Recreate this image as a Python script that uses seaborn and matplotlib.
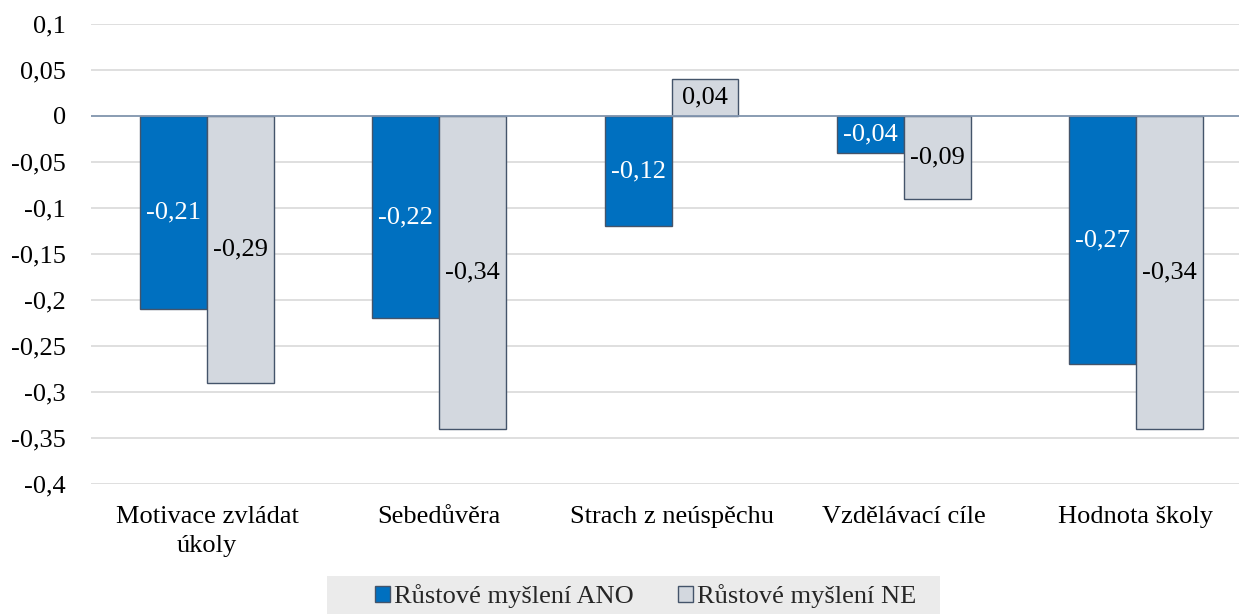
import matplotlib
matplotlib.use("Agg")
import matplotlib.pyplot as plt
import seaborn as sns
import pandas as pd
import numpy as np
from matplotlib.ticker import FixedLocator, FuncFormatter
from matplotlib.patches import Patch, Rectangle

categories = ["Motivace zvládat\núkoly", "Sebedůvěra", "Strach z neúspěchu",
              "Vzdělávací cíle", "Hodnota školy"]
series_names = ["Růstové myšlení ANO", "Růstové myšlení NE"]
values_ano = [-0.21, -0.22, -0.12, -0.04, -0.27]
values_ne = [-0.29, -0.34, 0.04, -0.09, -0.34]
y_ticks = [0.1, 0.05, 0, -0.05, -0.1, -0.15, -0.2, -0.25, -0.3, -0.35, -0.4]

colors = ["#0070C0", "#D3D8DF"]
edge = "#44546A"
fs = 19

sns.set_theme(style="white")
plt.rcParams["font.family"] = ["Liberation Serif", "DejaVu Serif"]

df = pd.DataFrame({
    "kategorie": categories * 2,
    "skupina": [series_names[0]] * 5 + [series_names[1]] * 5,
    "hodnota": values_ano + values_ne,
})

fig = plt.figure(figsize=(12.39, 6.14), dpi=100)
# the plot area runs slightly past the right edge of the canvas
ax = fig.add_axes([91 / 1239, 0.2117, (1252 - 91) / 1239, 0.7493])

sns.barplot(data=df, x="kategorie", y="hodnota", hue="skupina",
            palette=colors, saturation=1, width=0.577, gap=0,
            edgecolor=edge, linewidth=1.0, ax=ax, legend=False, zorder=3)

ax.set_ylim(-0.4, 0.1)
ax.set_xlim(-0.5, 4.5)
ax.yaxis.set_major_locator(FixedLocator(y_ticks))
ax.yaxis.set_major_formatter(FuncFormatter(
    lambda v, p: f"{v:g}".replace(".", ",") if abs(v) > 1e-9 else "0"))
ax.grid(axis="y", color="#D9D9D9", linewidth=1.2, zorder=0)
ax.axhline(0, color="#8497B0", linewidth=1.3, zorder=4)
for s in ax.spines.values():
    s.set_visible(False)
ax.set_xlabel("")
ax.set_ylabel("")
ax.tick_params(axis="both", length=0, labelsize=fs, colors="#000000")
ax.tick_params(axis="x", pad=16)
ax.tick_params(axis="y", pad=18)
for t in ax.get_xticklabels():
    t.set_linespacing(1.4)

label_colors = ["white", "black"]
for cont, vals, lc in zip(ax.containers, [values_ano, values_ne], label_colors):
    ax.bar_label(cont, labels=[f"{v:g}".replace(".", ",") for v in vals],
                 label_type="center", color=lc, fontsize=fs, zorder=5)

# legend band at the bottom
fig.patches.append(Rectangle((327 / 1239, 0), (940 - 327) / 1239, 38 / 614,
                             transform=fig.transFigure, facecolor="#EBEBEB",
                             edgecolor="none", zorder=0))
handles = [Patch(facecolor=c, edgecolor=edge, linewidth=1.0) for c in colors]
leg = fig.legend(handles, series_names, loc="center", bbox_to_anchor=(0.521, 0.029),
                 ncol=2, fontsize=fs, frameon=False,
                 handlelength=0.55, handleheight=0.55, handletextpad=0.15,
                 columnspacing=1.7, borderpad=0.2)

fig.savefig("out.png", dpi=100)
